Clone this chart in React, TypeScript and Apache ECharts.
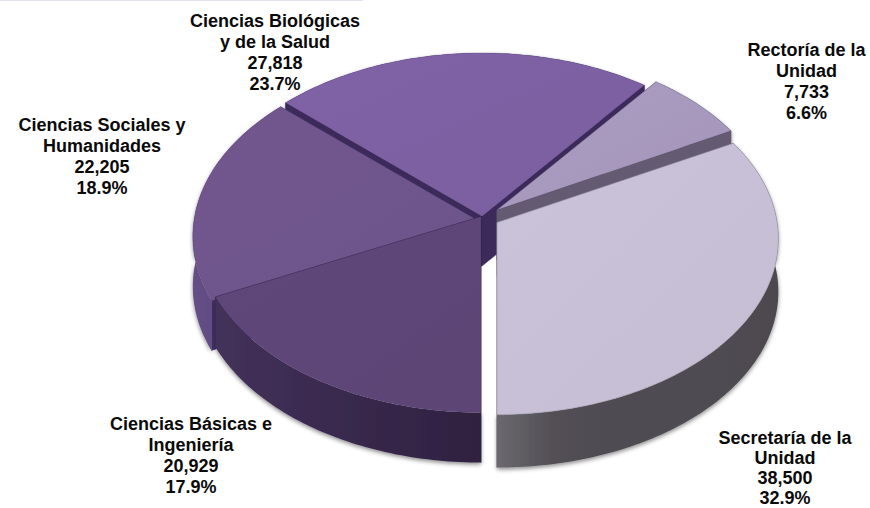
import React, { useEffect, useRef } from "react";
import * as echarts from "echarts";

const categories = ["Ciencias Básicas e\nIngeniería", "Ciencias Sociales y\nHumanidades", "Ciencias Biológicas\ny de la Salud", "Rectoría de la\nUnidad", "Secretaría de la\nUnidad"];
const values = [20929, 22205, 27818, 7733, 38500];
const valueLabels = ["20,929", "22,205", "27,818", "7,733", "38,500"];
const percentLabels = ["17.9%", "18.9%", "23.7%", "6.6%", "32.9%"];
const drawOrder = [2, 3, 1, 0, 4];

const topColors = [["#5f477a", "#5d4576"], ["#72578f", "#6c5489"], ["#8062a6", "#7a5f9f"], ["#ab9dc2", "#a494b9"], ["#c9c2d9", "#c5bed3"]];
const wallColors = [["#43315a", "#2f2140"], ["#654e86", "#59437a"], ["#5a4680", "#5a4680"], ["#68607a", "#68607a"], ["#6b686f", "#524f55", "#4f4c52", "#4f4c52", "#4f4c52", "#4c494f"]];
const radialColors = ["#352648", "#4a3570", "#3c2b5a", "#645a72", "#55525a"];
const apexes = [[481, 216.5], [477, 220], [482, 216], [497, 210], [497, 222.5]];
const scales = [[1, 1], [1, 1], [1, 1], [0.98, 0.98], [0.99, 0.98]];
const depths = [50, 50, 50, 50, 53];
const labelPositions = [[191, 455], [102, 156], [275, 52], [806.5, 81], [785, 468]];
const labelLineHeights = [21, 21, 21, 21, 20];

const AX = 283, AY = 178, K = 0.092, START = 180;
const total = values.reduce((a, b) => a + b, 0);
const spans = values.map((v) => (v / total) * 360);
const starts = spans.map((_, i) => START + spans.slice(0, i).reduce((a, b) => a + b, 0));

function project(deg: number, i: number) {
  const r = (deg * Math.PI) / 180;
  const u = Math.sin(r), v = Math.cos(r), w = 1 + K * v;
  return [apexes[i][0] + (scales[i][0] * AX * u) / w, apexes[i][1] - (scales[i][1] * AY * v) / w];
}
function arc(i: number) {
  const pts: number[][] = [];
  const n = Math.ceil(spans[i]);
  for (let k = 0; k <= n; k++) pts.push(project(starts[i] + (spans[i] * k) / n, i));
  return pts;
}
const grad = (x2: number, y2: number, c: string[]) =>
  new echarts.graphic.LinearGradient(0, 0, x2, y2, c.map((color, k) => ({ offset: k / (c.length - 1), color })));

function renderSlice(_: any, api: any) {
  const i = api.value(0) as number;
  const pts = arc(i), d = depths[i], apex = apexes[i];
  const down = (p: number[]) => [p[0], p[1] + d];
  const radial = (p: number[]) => ({
    type: "polygon",
    shape: { points: [apex, p, down(p), down(apex)] },
    style: { fill: radialColors[i], stroke: radialColors[i], lineWidth: 0.5 },
  });
  const ends = [
    { corner: pts[0], deg: starts[i] },
    { corner: pts[pts.length - 1], deg: starts[i] + spans[i] },
  ];
  const isFront = (deg: number) => Math.cos((deg * Math.PI) / 180) < 0;
  return {
    type: "group",
    children: [
      ...ends.filter((e) => isFront(e.deg)).map((e) => radial(e.corner)),
      {
        type: "polygon",
        shape: { points: [...pts, ...pts.slice().reverse().map(down)] },
        style: { fill: grad(1, 0, wallColors[i]), shadowColor: "rgba(0,0,0,0.45)", shadowBlur: 4, shadowOffsetY: 2 },
      },
      ...ends.filter((e) => !isFront(e.deg)).map((e) => radial(e.corner)),
      {
        type: "polygon",
        shape: { points: [apex, ...pts] },
        style: { fill: grad(1, 1, topColors[i]), stroke: i === 4 ? "#9c97a6" : "rgba(60,40,90,0.35)", lineWidth: 0.6 },
      },
    ],
  };
}

export default function App() {
  const ref = useRef<HTMLDivElement>(null);
  useEffect(() => {
    document.body.style.margin = "0";
    const chart = echarts.init(ref.current!, undefined, { renderer: "svg" });
    chart.setOption({
      animation: false,
      backgroundColor: "#ffffff",
      series: [{
        type: "custom",
        coordinateSystem: "none",
        silent: true,
        renderItem: renderSlice,
        data: drawOrder.map((i) => [i]),
      }],
      graphic: [
        { type: "rect", shape: { x: 0, y: 0, width: 363, height: 1 }, style: { fill: "#e6e1ef" } },
        ...categories.map((c, i) => ({
          type: "text",
          x: labelPositions[i][0],
          y: labelPositions[i][1],
          z: 10,
          style: {
            text: `${c}\n${valueLabels[i]}\n${percentLabels[i]}`,
            fontFamily: "Liberation Sans",
            fontWeight: "bold",
            fontSize: 18,
            lineHeight: labelLineHeights[i],
            align: "center",
            verticalAlign: "middle",
            fill: "#0a0a0a",
          },
        })),
      ],
    });
    return () => chart.dispose();
  }, []);
  return <div ref={ref} style={{ width: 870, height: 508 }} />;
}
